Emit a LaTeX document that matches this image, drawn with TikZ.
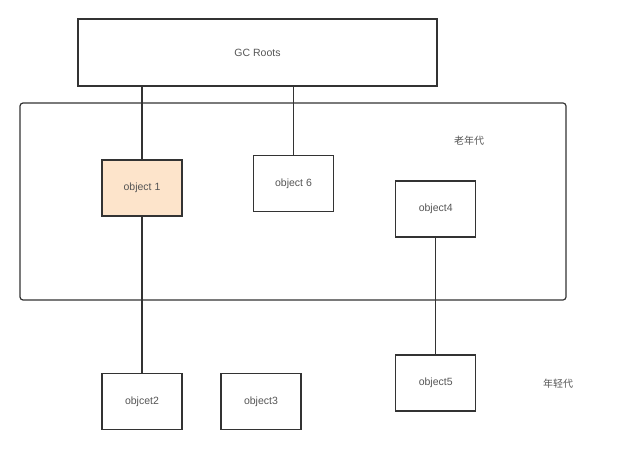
\documentclass[tikz,border=0pt]{standalone}
\usepackage{fontspec}
\setmainfont{Liberation Sans}
\newfontfamily\cjk{Noto Sans CJK SC}
\usepackage{tikz}
\definecolor{edgegray}{HTML}{333333}
\definecolor{textgray}{HTML}{555555}
\definecolor{peach}{HTML}{FDE4CB}
\tikzset{
  objbox/.style={draw=edgegray, line width=1.2pt, rectangle, inner sep=0pt,
    minimum width=80pt, minimum height=56pt, text=textgray,
    font=\fontsize{10.5}{12}\selectfont},
  region/.style={draw=edgegray, line width=1.2pt, rectangle, rounded corners=3pt, inner sep=0pt},
  genlabel/.style={text=textgray, font=\cjk\fontsize{10}{12}\selectfont},
  link/.style={draw=edgegray, line width=1.2pt}
}
\begin{document}
\begin{tikzpicture}[x=1pt, y=-1pt]
                    \useasboundingbox (0,0) rectangle (640,449);
                    % Nodes
                    \node[region, minimum width=546pt, minimum height=197pt] (old) at (293,201.5) {};
                    \node[genlabel] (oldlabel) at (469,141) {老年代};
                    \node[genlabel] (younglabel) at (558,384) {年轻代};
                    \node[objbox, minimum width=359pt, minimum height=67pt] (roots) at (257.5,52.5) {GC Roots};
                    \node[objbox, fill=peach] (obj1) at (142,188) {object 1};
                    \node[objbox] (obj6) at (293.5,183.5) {object 6};
                    \node[objbox] (obj4) at (435.7,209) {object4};
                    \node[objbox] (obj2) at (142,401.7) {objcet2};
                    \node[objbox] (obj3) at (261,401.7) {object3};
                    \node[objbox] (obj5) at (435.7,383) {object5};
                    % Edges
                    \draw[link] (roots.south -| obj1.north) -- (obj1.north);
                    \draw[link] (roots.south -| obj6.north) -- (obj6.north);
                    \draw[link] (obj1.south) -- (obj2.north);
                    \draw[link] (obj4.south) -- (obj5.north);
                \end{tikzpicture}
\end{document}
